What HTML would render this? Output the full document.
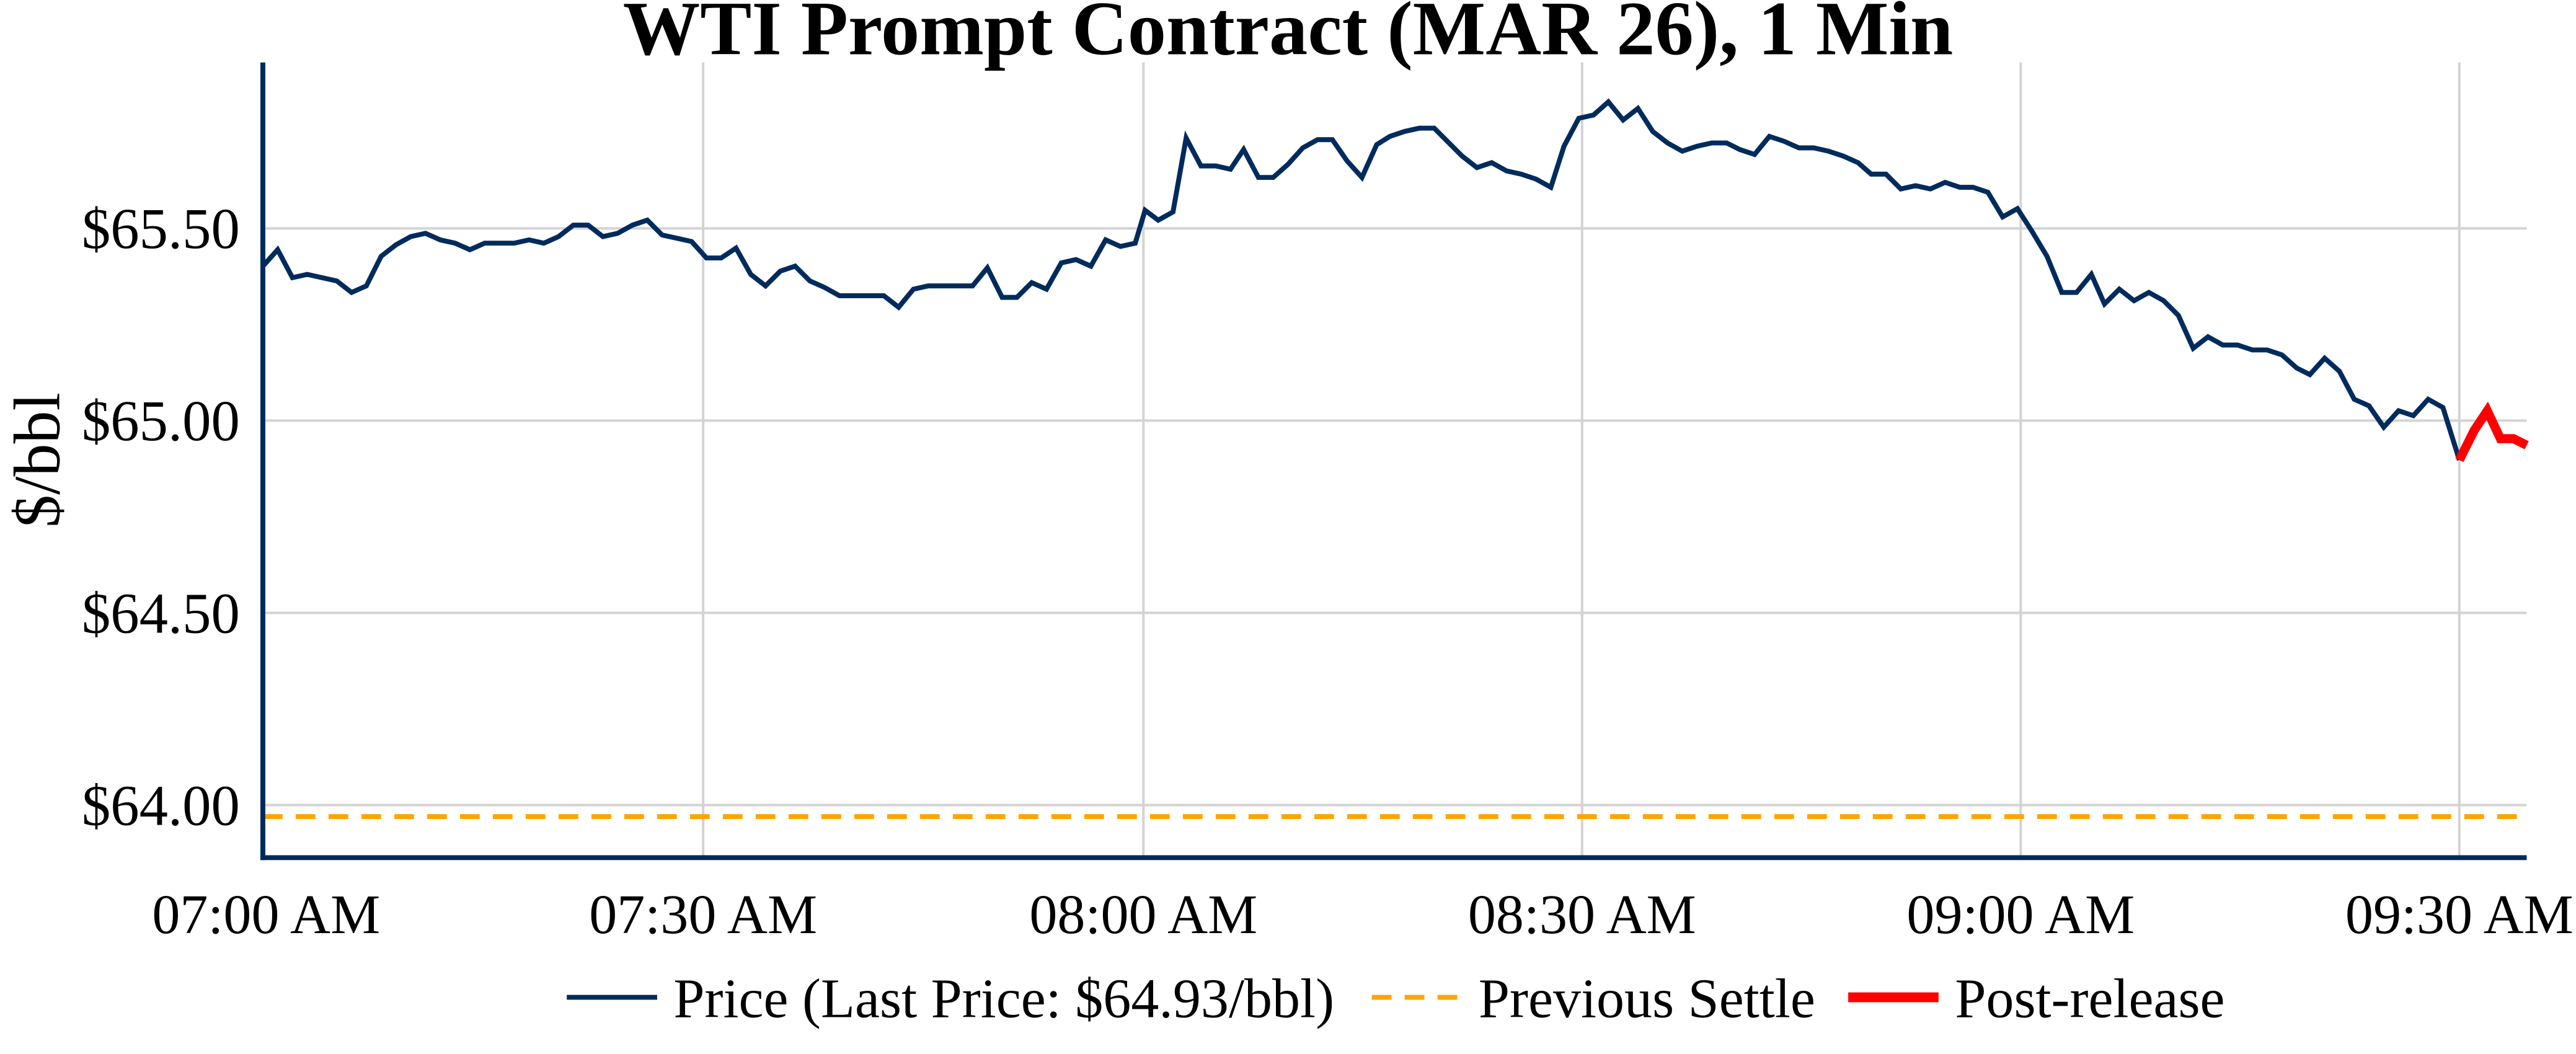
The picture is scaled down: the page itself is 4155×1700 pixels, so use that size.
<!DOCTYPE html>
<html><head><meta charset="utf-8"><style>
html,body{margin:0;padding:0;background:#fff;}
svg{display:block;}
text{font-family:"Liberation Serif",serif;fill:#000;}
</style></head><body>
<svg width="4155" height="1700" viewBox="0 0 1568 641.5" preserveAspectRatio="none" xmlns="http://www.w3.org/2000/svg">
<rect width="1568" height="642" fill="#fff"/>
<text x="784" y="33" font-size="47" font-weight="bold" text-anchor="middle">WTI Prompt Contract (MAR 26), 1 Min</text>
<g stroke="#d3d3d3" stroke-width="1.5">
<line x1="160" y1="139" x2="1538" y2="139"/>
<line x1="160" y1="256" x2="1538" y2="256"/>
<line x1="160" y1="373" x2="1538" y2="373"/>
<line x1="160" y1="490" x2="1538" y2="490"/>
<line x1="428" y1="38" x2="428" y2="522"/>
<line x1="696" y1="38" x2="696" y2="522"/>
<line x1="963" y1="38" x2="963" y2="522"/>
<line x1="1230" y1="38" x2="1230" y2="522"/>
<line x1="1497" y1="38" x2="1497" y2="522"/>
</g>
<line x1="160" y1="497" x2="1538" y2="497" stroke="#FFA500" stroke-width="3" stroke-dasharray="12,8"/>
<polyline fill="none" stroke="#002b5c" stroke-width="3" stroke-linejoin="miter" points="160,162 169,152 178,169 187,167 196,169 205,171 214,178 223,174 232,156 241,149 250,144 259,142 268,146 277,148 286,152 295,148 304,148 313,148 322,146 331,148 340,144 349,137 358,137 367,144 376,142 385,137 394,134 403,143 412,145 421,147 430,157 439,157 448,151 457,167 466,174 475,165 484,162 493,171 502,175 511,180 520,180 529,180 538,180 547,187 556,176 565,174 574,174 583,174 592,174 601,163 610,181 619,181 628,172 637,176 646,160 655,158 664,162 673,146 682,150 691,148 697,128 705,134 714,129 722,84 731,101 740,101 749,103 757,91 766,108 775,108 784,100 793,90 802,85 811,85 820,98 829,108 838,88 846,83 855,80 864,78 873,78 881,86 890,95 899,102 908,99 917,104 926,106 935,109 944,114 952,89 961,72 970,70 979,62 988,73 997,66 1006,80 1015,87 1024,92 1033,89 1042,87 1051,87 1059,91 1068,94 1077,83 1086,86 1095,90 1104,90 1113,92 1122,95 1131,99 1139,106 1148,106 1157,115 1166,113 1175,115 1184,111 1193,114 1201,114 1210,117 1219,132 1228,127 1237,141 1246,156 1255,178 1264,178 1273,167 1281,185 1290,176 1299,183 1308,178 1317,183 1326,192 1335,212 1344,205 1353,210 1362,210 1371,213 1380,213 1389,216 1398,224 1406,228 1415,218 1424,226 1433,243 1442,247 1451,260 1460,250 1469,253 1478,243 1487,248 1497,280"/>
<polyline fill="none" stroke="#ff0000" stroke-width="5.5" points="1497,280 1506,262 1514,250 1522,267 1530,267 1538,271"/>
<line x1="160" y1="38" x2="160" y2="523.5" stroke="#002b5c" stroke-width="3"/>
<line x1="158.5" y1="522" x2="1538" y2="522" stroke="#002b5c" stroke-width="3"/>
<g font-size="35" text-anchor="end">
<text x="146" y="151">$65.50</text>
<text x="146" y="268">$65.00</text>
<text x="146" y="385">$64.50</text>
<text x="146" y="502">$64.00</text>
</g>
<g font-size="34" text-anchor="middle">
<text x="162" y="568">07:00 AM</text>
<text x="428" y="568">07:30 AM</text>
<text x="696" y="568">08:00 AM</text>
<text x="963" y="568">08:30 AM</text>
<text x="1230" y="568">09:00 AM</text>
<text x="1497" y="568">09:30 AM</text>
</g>
<text transform="translate(36,280) rotate(-90)" font-size="40" text-anchor="middle">$/bbl</text>
<line x1="345" y1="607" x2="400" y2="607" stroke="#002b5c" stroke-width="3"/>
<text x="410" y="619" font-size="34">Price (Last Price: $64.93/bbl)</text>
<line x1="835" y1="607" x2="890" y2="607" stroke="#FFA500" stroke-width="3" stroke-dasharray="12,8"/>
<text x="900" y="619" font-size="34">Previous Settle</text>
<line x1="1125" y1="607" x2="1180" y2="607" stroke="#ff0000" stroke-width="6"/>
<text x="1190" y="619" font-size="34">Post-release</text>
</svg>
</body></html>
